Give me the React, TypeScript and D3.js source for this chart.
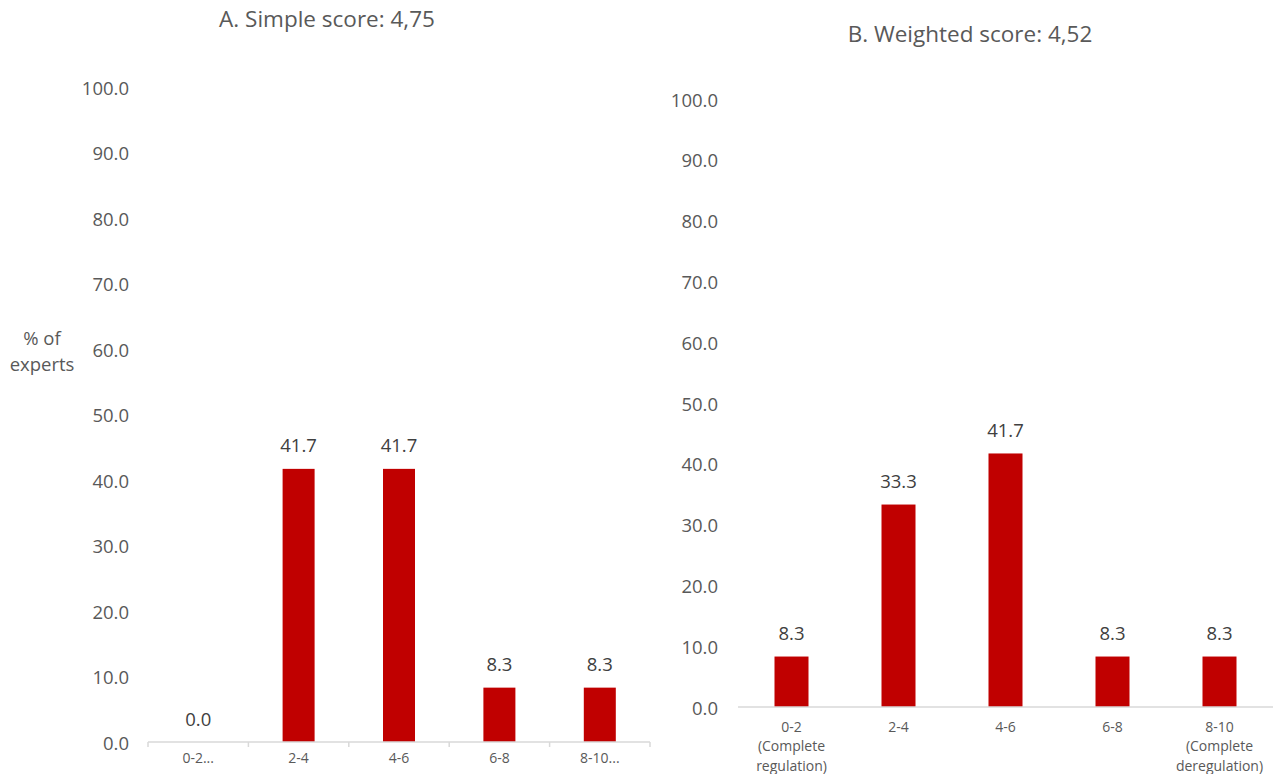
import React from "react";
import * as d3 from "d3";

const categoriesA = ["0-2...", "2-4", "4-6", "6-8", "8-10..."];
const valuesA = [0.0, 41.7, 41.7, 8.3, 8.3];
const categoriesB = [
  ["0-2", "(Complete", "regulation)"],
  ["2-4"],
  ["4-6"],
  ["6-8"],
  ["8-10", "(Complete", "deregulation)"],
];
const valuesB = [8.3, 33.3, 41.7, 8.3, 8.3];
const yTicks = [0, 10, 20, 30, 40, 50, 60, 70, 80, 90, 100];
const titleA = "A. Simple score: 4,75";
const titleB = "B. Weighted score: 4,52";
const yLabel = ["% of", "experts"];

const FONT = "'Open Sans', 'Noto Sans', sans-serif";
const BAR = "#C00000";
const AXIS = "#D9D9D9";
const TXT = "#595959";
const LBL = "#404040";

type PanelProps = {
  x0: number;
  x1: number;
  yTop: number;
  yBottom: number;
  cats: string[][];
  vals: number[];
  barWidth: number;
  tickX: number;
  title: string;
  titleX: number;
  titleY: number;
  ticksOnAxis: boolean;
  catY: number;
};

function Panel(p: PanelProps) {
  const keys = p.cats.map((c) => c.join(" "));
  const x = d3.scaleBand<string>().domain(keys).range([p.x0, p.x1]);
  const y = d3.scaleLinear().domain([0, 100]).range([p.yBottom, p.yTop]);
  const bw = p.barWidth;
  return (
    <g>
      <text x={p.titleX} y={p.titleY} textAnchor="middle" dominantBaseline="central" fontSize={22.5} fill={TXT} fontFamily={FONT}>
        {p.title}
      </text>
      {yTicks.map((t) => (
        <text key={t} x={p.tickX} y={y(t)} textAnchor="end" dominantBaseline="central" fontSize={18.5} fill={TXT} fontFamily={FONT}>
          {d3.format(".1f")(t)}
        </text>
      ))}
      {p.vals.map((v, i) => {
        const cx = (x(keys[i]) as number) + x.bandwidth() / 2;
        return (
          <g key={i}>
            <rect x={cx - bw / 2} y={y(v)} width={bw} height={y(0) - y(v)} fill={BAR} />
            <text x={cx} y={y(v) - 24} textAnchor="middle" dominantBaseline="central" fontSize={18.5} fill={LBL} fontFamily={FONT}>
              {d3.format(".1f")(v)}
            </text>
          </g>
        );
      })}
      <line x1={p.x0} x2={p.x1} y1={y(0)} y2={y(0)} stroke={AXIS} strokeWidth={1.5} />
      {p.ticksOnAxis &&
        [...keys.map((k) => x(k) as number), p.x1].map((tx, i) => (
          <line key={i} x1={tx} x2={tx} y1={y(0)} y2={y(0) + 5} stroke={AXIS} strokeWidth={1.5} />
        ))}
      {p.cats.map((lines, i) => {
        const cx = (x(keys[i]) as number) + x.bandwidth() / 2;
        return (
          <text key={i} x={cx} textAnchor="middle" fontSize={14} fill={TXT} fontFamily={FONT}>
            {lines.map((l, j) => (
              <tspan key={j} x={cx} y={p.catY + j * 19.5} dominantBaseline="central">
                {l}
              </tspan>
            ))}
          </text>
        );
      })}
    </g>
  );
}

export default function App() {
  return (
    <div style={{ position: "fixed", left: 0, top: 0 }}>
      <svg width={1273} height={774} style={{ display: "block", background: "#fff" }}>
        <text textAnchor="middle" fontSize={18.5} fill={TXT} fontFamily={FONT}>
          {yLabel.map((l, j) => (
            <tspan key={j} x={42} y={337 + j * 26} dominantBaseline="central">
              {l}
            </tspan>
          ))}
        </text>
        <Panel
          x0={148}
          x1={650}
          yTop={87}
          yBottom={742}
          cats={categoriesA.map((c) => [c])}
          vals={valuesA}
          barWidth={32}
          tickX={129}
          title={titleA}
          titleX={327}
          titleY={18}
          ticksOnAxis={true}
          catY={757}
        />
        <Panel
          x0={738}
          x1={1273}
          yTop={99}
          yBottom={707}
          cats={categoriesB}
          vals={valuesB}
          barWidth={34}
          tickX={718}
          title={titleB}
          titleX={970}
          titleY={33}
          ticksOnAxis={false}
          catY={726}
        />
      </svg>
    </div>
  );
}
